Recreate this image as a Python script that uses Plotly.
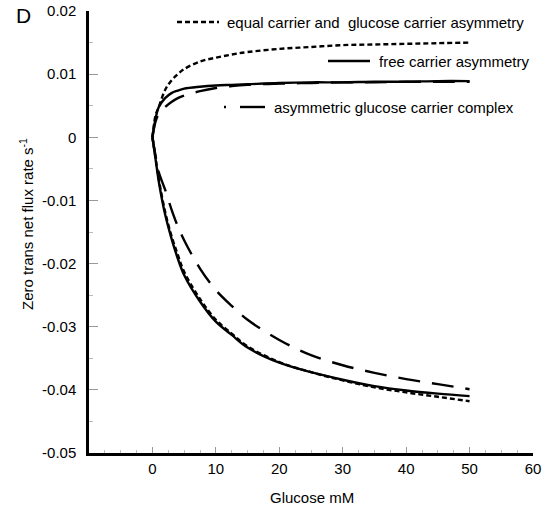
import plotly.graph_objects as go

# Glucose concentrations (mM)
glucose = [0, 0.5, 1, 2, 3, 4, 5, 7.5, 10, 12.5, 15, 20, 25, 30, 35, 40, 45, 50]

# equal carrier and glucose carrier asymmetry (dotted)
equal_pos = [0, 0.0035, 0.0048, 0.0075, 0.0090, 0.0100, 0.0108, 0.0120, 0.0126, 0.0131,
             0.0135, 0.0140, 0.0143, 0.0146, 0.0147, 0.0148, 0.0149, 0.0150]
equal_neg = [0, -0.0033, -0.0066, -0.0118, -0.0156, -0.0186, -0.0213, -0.0256, -0.0289, -0.0311,
             -0.0331, -0.0356, -0.0372, -0.0385, -0.0396, -0.0404, -0.0411, -0.0418]

# free carrier asymmetry (solid)
free_pos = [0, 0.0030, 0.0048, 0.0062, 0.0070, 0.0074, 0.0077, 0.0080, 0.0082, 0.0083,
            0.0084, 0.0086, 0.0087, 0.0087, 0.0088, 0.0088, 0.0089, 0.0089]
free_neg = [0, -0.0035, -0.0070, -0.0122, -0.0160, -0.0192, -0.0218, -0.0260, -0.0292, -0.0313,
            -0.0333, -0.0357, -0.0372, -0.0384, -0.0394, -0.0401, -0.0406, -0.0410]

# asymmetric glucose carrier complex (long dash)
complex_pos = [0, 0.0025, 0.0037, 0.0048, 0.0056, 0.0062, 0.0066, 0.0073, 0.0078, 0.0081,
               0.0083, 0.0085, 0.0086, 0.0087, 0.0087, 0.0088, 0.0088, 0.0088]
complex_neg = [0, -0.0030, -0.0055, -0.0083, -0.0114, -0.0141, -0.0163, -0.0208, -0.0242, -0.0267,
               -0.0289, -0.0321, -0.0345, -0.0361, -0.0373, -0.0383, -0.0391, -0.0399]

x_ticks = [0, 10, 20, 30, 40, 50, 60]
y_ticks = [0.02, 0.01, 0, -0.01, -0.02, -0.03, -0.04, -0.05]
y_tick_labels = ["0.02", "0.01", "0", "-0.01", "-0.02", "-0.03", "-0.04", "-0.05"]

labels = ["equal carrier and  glucose carrier asymmetry",
          "free carrier asymmetry",
          "asymmetric glucose carrier complex"]

FONT = "Liberation Sans, Arial, sans-serif"
FS = 15
DOT = "5px,3px"
LONG = "22px,12px"

fig = go.Figure()
series = [
    (equal_pos, equal_neg, DOT),
    (free_pos, free_neg, "solid"),
    (complex_pos, complex_neg, LONG),
]
for pos, neg, dash in series:
    for ys in (pos, neg):
        fig.add_trace(go.Scatter(x=glucose, y=ys, mode="lines", line_shape="spline",
                                 line=dict(color="black", width=2.4, dash=dash),
                                 showlegend=False, hoverinfo="skip"))

fig.update_layout(
    width=549, height=506,
    margin=dict(l=89, r=16, t=11, b=53, autoexpand=False),
    paper_bgcolor="white", plot_bgcolor="white",
    font=dict(family=FONT, size=FS, color="black"),
    showlegend=False,
)
fig.update_xaxes(range=[-10, 60], tickvals=x_ticks, ticks="inside", ticklen=6,
                 tickcolor="#999", tickwidth=1, showgrid=False, zeroline=False,
                 showline=True, linecolor="black", linewidth=2.5,
                 ticklabelstandoff=0, automargin=False,
                 minor=dict(ticks="inside", ticklen=3, tickcolor="#bbb", dtick=2.5))
fig.update_yaxes(range=[-0.05, 0.02], tickvals=y_ticks, ticktext=y_tick_labels,
                 ticks="inside", ticklen=9, tickcolor="#999", tickwidth=1,
                 showgrid=False, zeroline=False, showline=True, linecolor="black",
                 linewidth=2.5, ticklabelstandoff=7, automargin=False,
                 minor=dict(ticks="inside", ticklen=4, tickcolor="#bbb", dtick=0.005))

W, H, L, T = 444, 442, 89, 11
def px(x):
    return (x - L) / W
def py(y):
    return (T + H - y) / H

annotations = [
    dict(text="D", x=px(14), y=py(16), xref="paper", yref="paper", showarrow=False,
         font=dict(size=21), xanchor="left", yanchor="middle"),
    dict(text="Glucose mM", x=px(312), y=py(497), xref="paper", yref="paper",
         xanchor="center", yanchor="middle", showarrow=False, font=dict(size=FS)),
    dict(text="Zero trans net flux rate s<sup>-1</sup>", x=px(27), y=py(224),
         xref="paper", yref="paper", textangle=-90, showarrow=False,
         xanchor="center", yanchor="middle", font=dict(size=FS)),
]
legend_items = [
    (labels[0], 225, 22),
    (labels[1], 377, 61),
    (labels[2], 272, 107),
]
for text, xl, yl in legend_items:
    annotations.append(dict(text=text, x=px(xl), y=py(yl), xref="paper", yref="paper",
                            xanchor="left", yanchor="middle", showarrow=False,
                            font=dict(size=FS)))

shapes = [
    dict(type="line", xref="paper", yref="paper", x0=px(177), x1=px(219), y0=py(22), y1=py(22),
         line=dict(color="black", width=2.4, dash=DOT)),
    dict(type="line", xref="paper", yref="paper", x0=px(328), x1=px(370), y0=py(61), y1=py(61),
         line=dict(color="black", width=2.4)),
    dict(type="line", xref="paper", yref="paper", x0=px(224), x1=px(226), y0=py(107), y1=py(107),
         line=dict(color="black", width=2.4)),
    dict(type="line", xref="paper", yref="paper", x0=px(240), x1=px(265), y0=py(107), y1=py(107),
         line=dict(color="black", width=2.4)),
]
fig.update_layout(annotations=annotations, shapes=shapes)

fig.write_html("out.html", config={"displayModeBar": False},
               post_script="document.body.style.margin='0';")
